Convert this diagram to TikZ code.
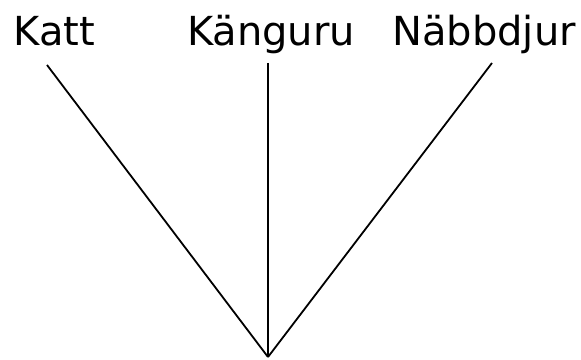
\documentclass[tikz,border=0pt]{standalone}
\usepackage{fontspec}
\setmainfont{DejaVu Sans}

\begin{document}
\begin{tikzpicture}[x=1pt, y=1pt]
\tikzset{
  species/.style={
    inner sep=0pt,
    anchor=base,
    font=\fontsize{40}{48}\selectfont
  },
  branch/.style={
    draw,
    line width=1.8pt
  }
}

\useasboundingbox (0,0) rectangle (581,359);

% Leaves
\node (katt) [species] at (54.5,313) {Katt};
\node (kanguru) [species] at (271,313) {Känguru};
\node (nabbdjur) [species] at (484,313) {Näbbdjur};

% Branch ends
\coordinate (kattend) at (47,294);
\coordinate (kanguruend) at (268,296);
\coordinate (nabbdjurend) at (492,296);
\coordinate (root) at (268,2);

\draw[branch] (kattend) -- (root);
\draw[branch] (kanguruend) -- (root);
\draw[branch] (nabbdjurend) -- (root);

\end{tikzpicture}
\end{document}
